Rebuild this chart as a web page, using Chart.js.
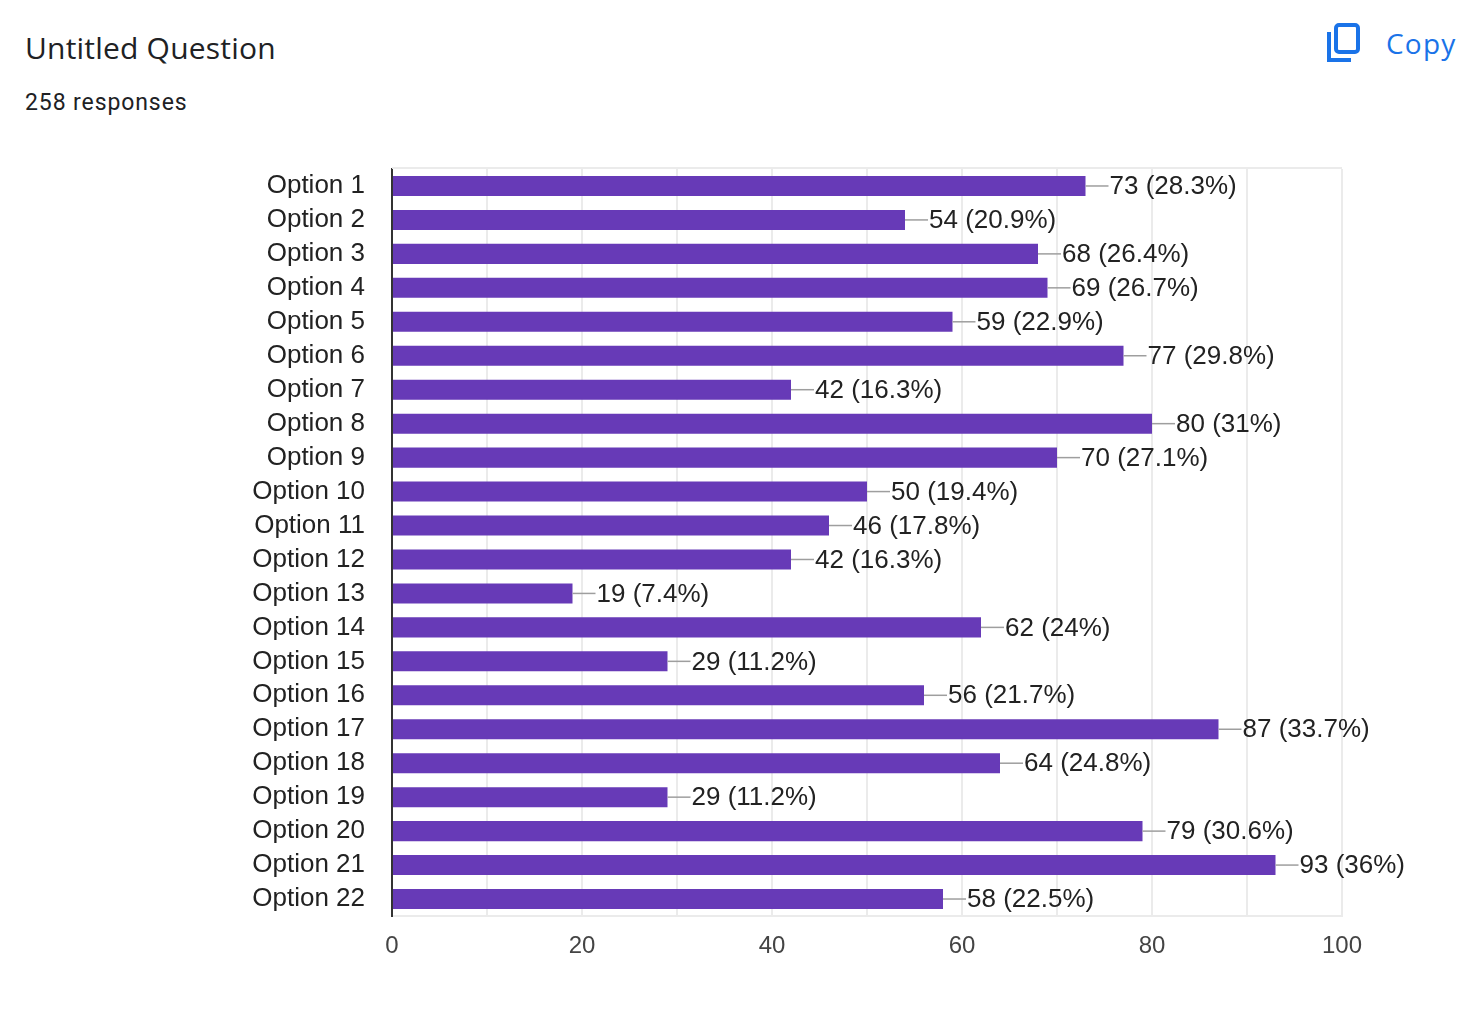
<!DOCTYPE html>
<html>
<head>
<meta charset="utf-8">
<script src="https://cdn.jsdelivr.net/npm/chart.js@4"></script>
<style>
  html, body { margin: 0; padding: 0; background: #fff; }
  body { width: 1458px; height: 1010px; position: relative; overflow: hidden; font-family: Roboto, "Open Sans", sans-serif; }
  #title { position: absolute; left: 25px; top: 27px; font-family: "Open Sans", Roboto, sans-serif; font-size: 30px; color: #202124; letter-spacing: 0.2px; }
  #sub { position: absolute; left: 25px; top: 89px; font-size: 23px; color: #202124; letter-spacing: 0.9px; }
  #copy { position: absolute; left: 1326px; top: 23px; color: #1a73e8; font-size: 28px; font-family: "Open Sans", Roboto, sans-serif; display: flex; align-items: center; letter-spacing: 1.2px; }
  #copy svg { margin-right: 24px; }
  #wrap { position: absolute; left: 0; top: 0; width: 1458px; height: 1010px; }
</style>
</head>
<body>
<div id="title">Untitled Question</div>
<div id="sub">258 responses</div>
<div id="copy">
  <svg width="36" height="40" viewBox="0 0 36 40">
    <path d="M3 9 V37 H25" fill="none" stroke="#1a73e8" stroke-width="4"/>
    <rect x="10" y="2" width="22" height="27" rx="3" fill="none" stroke="#1a73e8" stroke-width="4"/>
  </svg>
  <span>Copy</span>
</div>
<div id="wrap"><canvas id="c" width="1458" height="1010"></canvas></div>
<script>
const categories = ['Option 1','Option 2','Option 3','Option 4','Option 5','Option 6','Option 7','Option 8','Option 9','Option 10','Option 11','Option 12','Option 13','Option 14','Option 15','Option 16','Option 17','Option 18','Option 19','Option 20','Option 21','Option 22'];
const counts = [73, 54, 68, 69, 59, 77, 42, 80, 70, 50, 46, 42, 19, 62, 29, 56, 87, 64, 29, 79, 93, 58];
const percents = ['28.3%','20.9%','26.4%','26.7%','22.9%','29.8%','16.3%','31%','27.1%','19.4%','17.8%','16.3%','7.4%','24%','11.2%','21.7%','33.7%','24.8%','11.2%','30.6%','36%','22.5%'];
const xTicks = [0, 20, 40, 60, 80, 100];

const labelFont = '"Liberation Sans", Arial, sans-serif';

const valueLabels = {
  id: 'valueLabels',
  beforeDatasetsDraw(chart) {
    const a = chart.chartArea, ctx = chart.ctx;
    ctx.save();
    ctx.strokeStyle = '#ebebeb';
    ctx.lineWidth = 2;
    ctx.beginPath();
    ctx.moveTo(a.left, a.top - 1); ctx.lineTo(a.right, a.top - 1);
    ctx.stroke();
    ctx.restore();
  },
  afterDatasetsDraw(chart) {
    const ctx = chart.ctx;
    const meta = chart.getDatasetMeta(0);
    ctx.save();
    ctx.font = '26px ' + labelFont;
    ctx.textBaseline = 'middle';
    ctx.textAlign = 'left';
    meta.data.forEach((bar, i) => {
      const x = bar.x, y = bar.y;
      ctx.strokeStyle = '#9e9e9e';
      ctx.lineWidth = 1.5;
      ctx.beginPath();
      ctx.moveTo(x, y); ctx.lineTo(x + 23, y);
      ctx.stroke();
      ctx.fillStyle = '#222';
      ctx.fillText(counts[i] + ' (' + percents[i] + ')', x + 24, y + 1);
    });
    ctx.restore();
  }
};

new Chart(document.getElementById('c'), {
  type: 'bar',
  data: {
    labels: categories,
    datasets: [{
      data: counts,
      backgroundColor: '#673ab7',
      barPercentage: 0.59,
      categoryPercentage: 1.0
    }]
  },
  options: {
    indexAxis: 'y',
    responsive: false,
    animation: false,
    layout: { padding: { top: 169, right: 116, left: 0, bottom: 0 } },
    plugins: { legend: { display: false }, tooltip: { enabled: false } },
    scales: {
      x: {
        min: 0, max: 100,
        afterFit(s) { s.height = 94; },
        afterBuildTicks(s) {
          const t = [];
          for (let v = 0; v <= 100; v += 10) t.push({ value: v });
          s.ticks = t;
        },
        ticks: {
          autoSkip: false,
          maxRotation: 0,
          padding: 16,
          color: '#444',
          font: { family: labelFont, size: 24 },
          callback: v => xTicks.includes(v) ? String(v) : ''
        },
        grid: { color: '#ebebeb', lineWidth: 2, drawTicks: false },
        border: { display: true, color: '#ebebeb', width: 2 }
      },
      y: {
        afterFit(s) { s.width = 392; },
        ticks: {
          autoSkip: false,
          padding: 27,
          color: '#222',
          font: { family: labelFont, size: 26 }
        },
        grid: { display: false, drawTicks: false },
        border: { display: true, color: '#333', width: 2 }
      }
    }
  },
  plugins: [valueLabels]
});
</script>
</body>
</html>
